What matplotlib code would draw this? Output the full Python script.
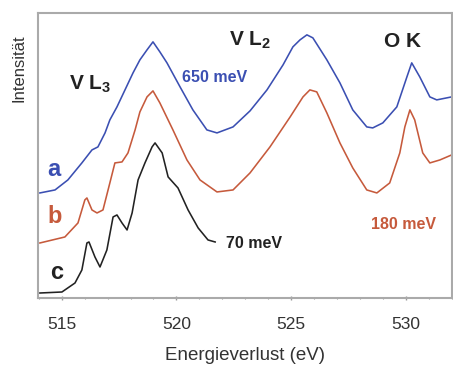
import matplotlib
matplotlib.use("Agg")
import matplotlib.pyplot as plt
from matplotlib.ticker import MultipleLocator

plt.rcParams['font.family'] = ['Liberation Sans', 'DejaVu Sans']
plt.rcParams['mathtext.fontset'] = 'custom'
plt.rcParams['mathtext.rm'] = 'Liberation Sans:bold'
plt.rcParams['mathtext.bf'] = 'Liberation Sans:bold'

# spectrum a (650 meV)
a_ev = [514.05, 514.71, 515.27, 515.88, 516.32, 516.58, 516.89, 517.10, 517.41, 517.76,
        518.11, 518.41, 518.72, 518.98, 519.28, 519.59, 520.16, 520.72, 521.33, 521.77,
        522.47, 523.21, 523.95, 524.65, 525.08, 525.39, 525.69, 525.95, 526.56, 527.13,
        527.69, 528.30, 528.56, 529.00, 529.61, 530.05, 530.26, 530.61, 531.05, 531.35,
        532.0]
a_int = [1.05, 1.08, 1.18, 1.35, 1.48, 1.51, 1.65, 1.78, 1.91, 2.08,
         2.25, 2.38, 2.48, 2.56, 2.46, 2.35, 2.11, 1.88, 1.68, 1.65,
         1.71, 1.87, 2.08, 2.33, 2.51, 2.58, 2.63, 2.60, 2.38, 2.15,
         1.88, 1.71, 1.70, 1.75, 1.91, 2.21, 2.35, 2.21, 2.01, 1.98,
         2.01]

# spectrum b (180 meV)
b_ev = [514.05, 515.14, 515.71, 516.01, 516.10, 516.32, 516.54, 516.80, 517.10, 517.32,
        517.63, 517.89, 518.20, 518.41, 518.72, 518.98, 519.28, 519.85, 520.46, 521.03,
        521.77, 522.47, 523.21, 524.08, 524.96, 525.52, 525.82, 526.12, 526.56, 527.13,
        527.69, 528.30, 528.74, 529.30, 529.74, 529.96, 530.18, 530.39, 530.74, 531.05,
        531.49, 532.0]
b_int = [0.55, 0.61, 0.75, 0.98, 1.00, 0.88, 0.85, 0.88, 1.15, 1.35,
         1.36, 1.45, 1.68, 1.86, 2.01, 2.07, 1.95, 1.68, 1.38, 1.18,
         1.06, 1.08, 1.25, 1.51, 1.81, 2.01, 2.08, 2.06, 1.85, 1.55,
         1.30, 1.08, 1.05, 1.15, 1.45, 1.71, 1.88, 1.78, 1.45, 1.35,
         1.38, 1.43]

# spectrum c (70 meV)
c_ev = [514.05, 515.01, 515.58, 515.88, 516.10, 516.19, 516.45, 516.67, 516.97, 517.24,
        517.41, 517.63, 517.85, 518.07, 518.33, 518.63, 518.94, 519.07, 519.38, 519.64,
        520.07, 520.51, 520.95, 521.38, 521.69]
c_int = [0.05, 0.06, 0.15, 0.28, 0.55, 0.56, 0.41, 0.31, 0.48, 0.81,
         0.83, 0.75, 0.68, 0.85, 1.18, 1.35, 1.51, 1.55, 1.45, 1.21,
         1.10, 0.88, 0.70, 0.58, 0.56]

blue = '#3b4fb2'
red = '#c65a3c'
black = '#222222'

fig = plt.figure(figsize=(4.53, 3.67), dpi=100)
ax = fig.add_axes([0.083, 0.188, 0.914, 0.777])

ax.plot(a_ev, a_int, color=blue, lw=1.15, solid_joinstyle='round')
ax.plot(b_ev, b_int, color=red, lw=1.15, solid_joinstyle='round')
ax.plot(c_ev, c_int, color=black, lw=1.15, solid_joinstyle='round')

ax.set_xlim(513.95, 532.0)
ax.set_ylim(0, 2.85)
ax.set_yticks([])
ax.xaxis.set_major_locator(MultipleLocator(5))
ax.xaxis.set_minor_locator(MultipleLocator(1))
ax.tick_params(axis='x', which='major', length=3, width=1, color='#999999',
               direction='inout', labelsize=12.5, labelcolor='#333333', pad=12)
ax.tick_params(axis='x', which='minor', length=2, width=0.8, color='#999999', direction='inout')
for s in ax.spines.values():
    s.set_color('#aaaaaa')
    s.set_linewidth(1.5)

ax.set_xlabel('Energieverlust (eV)', fontsize=13.5, color='#333333', labelpad=11)
ax.set_ylabel('Intensität', fontsize=12, color='#333333')
ax.yaxis.set_label_coords(-0.027, 0.807)

ax.text(516.24, 2.14, r'V L$_3$', fontsize=15, fontweight='bold', ha='center', va='center', color=black)
ax.text(523.2, 2.58, r'V L$_2$', fontsize=15, fontweight='bold', ha='center', va='center', color=black)
ax.text(529.85, 2.56, 'O K', fontsize=15, fontweight='bold', ha='center', va='center', color=black)
ax.text(521.65, 2.20, '650 meV', fontsize=11.5, fontweight='bold', ha='center', va='center', color=blue)
ax.text(529.9, 0.73, '180 meV', fontsize=11.5, fontweight='bold', ha='center', va='center', color=red)
ax.text(523.4, 0.54, '70 meV', fontsize=11.5, fontweight='bold', ha='center', va='center', color=black)
ax.text(514.64, 1.28, 'a', fontsize=17, fontweight='bold', ha='center', va='center', color=blue)
ax.text(514.69, 0.81, 'b', fontsize=17, fontweight='bold', ha='center', va='center', color=red)
ax.text(514.78, 0.25, 'c', fontsize=17, fontweight='bold', ha='center', va='center', color=black)

fig.savefig('out.png', dpi=100)
